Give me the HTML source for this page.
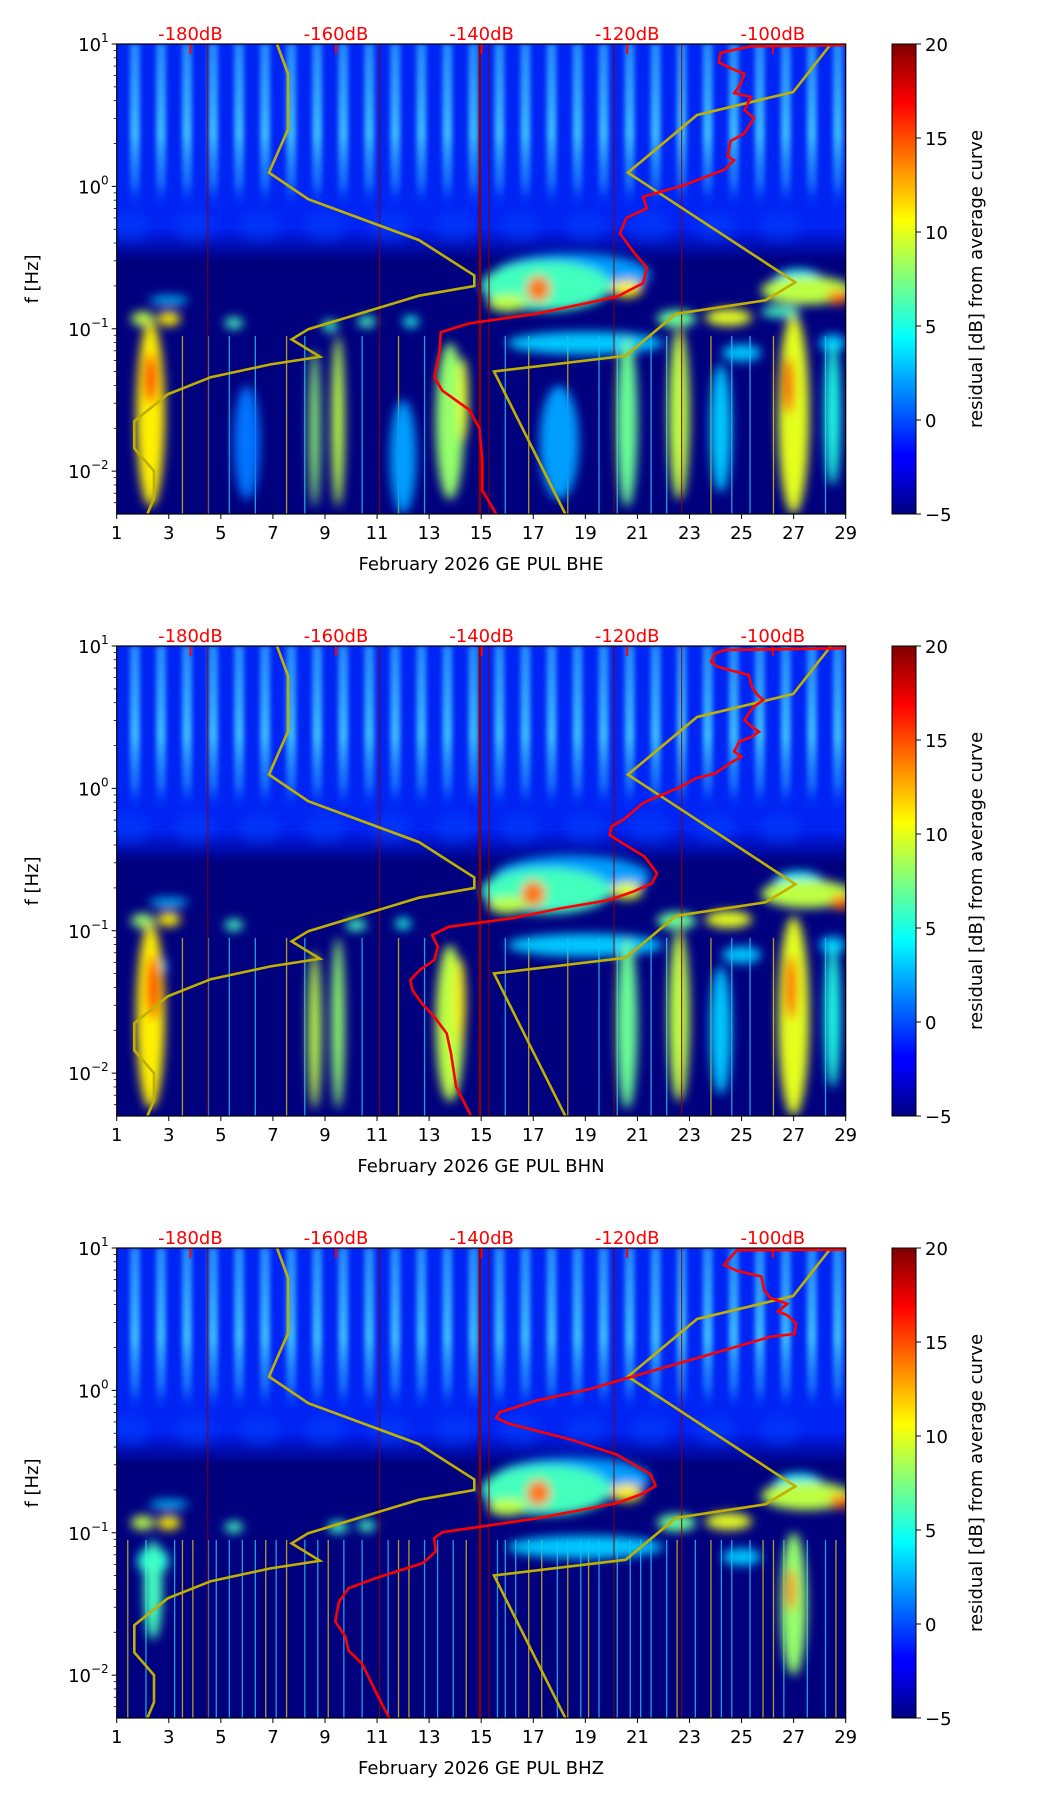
<!DOCTYPE html>
<html><head><meta charset="utf-8">
<style>
html,body{margin:0;padding:0;background:#fff;}
svg{display:block;font-family:"DejaVu Sans","Liberation Sans",sans-serif;}
</style></head>
<body>
<svg id="fig" width="1052" height="1806" viewBox="0 0 1052 1806" xmlns="http://www.w3.org/2000/svg">
<defs>
<filter id="blur5" x="-50%" y="-50%" width="200%" height="200%"><feGaussianBlur stdDeviation="5"/></filter>
<filter id="blur3" x="-50%" y="-50%" width="200%" height="200%"><feGaussianBlur stdDeviation="2.5"/></filter>
<linearGradient id="stripeGrad" x1="0" y1="0" x2="0" y2="1">
<stop offset="0" stop-color="#30a8ff" stop-opacity="0.75"/>
<stop offset="0.55" stop-color="#40c8ff" stop-opacity="0.9"/>
<stop offset="0.85" stop-color="#2090ff" stop-opacity="0.6"/>
<stop offset="1" stop-color="#0050ff" stop-opacity="0"/>
</linearGradient>
<linearGradient id="fadeGrad" x1="0" y1="0" x2="0" y2="1">
<stop offset="0" stop-color="#0020f0"/>
<stop offset="1" stop-color="#00007f"/>
</linearGradient>
<linearGradient id="cbGrad" x1="0" y1="1" x2="0" y2="0">
<stop offset="0" stop-color="#00007f"/><stop offset="0.11" stop-color="#0000ff"/>
<stop offset="0.125" stop-color="#0000ff"/><stop offset="0.375" stop-color="#00ffff"/>
<stop offset="0.5" stop-color="#7fff7f"/><stop offset="0.625" stop-color="#ffff00"/>
<stop offset="0.875" stop-color="#ff0000"/><stop offset="1" stop-color="#7f0000"/>
</linearGradient>
</defs>
</svg>
<script>
// ---------- data ----------
const panelTops = [44, 646, 1248];
const channelNames = ["BHE", "BHN", "BHZ"];
const dayTicks = [1,3,5,7,9,11,13,15,17,19,21,23,25,27,29];
const dbTicks = [-180,-160,-140,-120,-100];
const cbTicks = [20,15,10,5,0,-5];
const yDecades = [1,0,-1,-2];
// low noise model (dB, log10 f)
const nlnmDb   = [-168.1,-166.6,-166.6,-169.2,-163.8,-148.6,-141.0,-141.0,-148.6,-163.8,-166.1,-162.2,-169.0,-177.2,-183.1,-187.7,-187.7,-185.0,-185.0,-185.9];
const nlnmLogf = [1,0.79,0.40,0.097,-0.09,-0.377,-0.625,-0.70,-0.768,-1.003,-1.075,-1.197,-1.25,-1.34,-1.46,-1.65,-1.84,-2.0,-2.19,-2.30];
// high noise model
const nhnmDb   = [-92.0,-97.2,-110.4,-119.9,-96.9,-101.0,-113.3,-120.2,-138.3,-128.5];
const nhnmLogf = [1,0.663,0.501,0.097,-0.674,-0.80,-0.895,-1.19,-1.30,-2.30];
// average curves per channel
const avgDb1 = [-90.1,-103.0,-107.2,-107.4,-105.8,-103.9,-104.4,-105.3,-103.0,-103.9,-102.6,-103.9,-105.8,-106.2,-105.3,-106.7,-112.2,-117.8,-117.3,-120.1,-121.0,-119.1,-117.3,-117.8,-121.4,-132.5,-141.7,-145.6,-145.8,-146.5,-145.4,-141.7,-140.3,-139.9,-139.9,-138.0];
const avgLogf1 = [0.992,0.984,0.938,0.871,0.83,0.79,0.72,0.655,0.628,0.534,0.48,0.372,0.318,0.21,0.183,0.116,0.008,-0.073,-0.154,-0.221,-0.329,-0.464,-0.571,-0.679,-0.774,-0.895,-0.962,-1.024,-1.164,-1.34,-1.434,-1.569,-1.70,-1.92,-2.135,-2.30];
const avgDb2 = [-90.2,-106.6,-107.9,-108.5,-107.6,-105.9,-103.3,-102.9,-102.1,-101.3,-102.6,-103.3,-103.9,-102.9,-101.9,-102.9,-104.6,-105.3,-104.3,-105.9,-107.9,-110.6,-112.6,-115.9,-117.9,-119.2,-120.6,-122.2,-122.4,-120.6,-117.6,-115.9,-116.6,-119.2,-122.6,-129.2,-135.9,-144.5,-146.8,-146.0,-146.5,-148.5,-149.8,-149.5,-148.2,-146.5,-144.8,-144.2,-143.5,-141.5];
const avgLogf2 = [0.984,0.972,0.948,0.89,0.855,0.831,0.796,0.714,0.656,0.621,0.574,0.527,0.48,0.433,0.398,0.363,0.328,0.258,0.222,0.176,0.105,0.07,0.012,-0.059,-0.105,-0.164,-0.222,-0.269,-0.328,-0.386,-0.48,-0.597,-0.667,-0.726,-0.785,-0.843,-0.913,-0.972,-1.03,-1.112,-1.206,-1.276,-1.347,-1.417,-1.51,-1.604,-1.721,-1.862,-2.096,-2.295];
const avgDb3 = [-90.1,-104.9,-105.8,-106.7,-104.9,-101.6,-101.2,-100.3,-98.0,-99.3,-98.0,-96.8,-97.0,-100.3,-103.9,-108.5,-114.1,-119.6,-125.1,-132.5,-137.5,-138.0,-136.2,-127.9,-121.4,-116.8,-116.1,-117.8,-121.4,-132.5,-141.7,-145.4,-146.5,-146.3,-148.1,-154.6,-158.3,-159.6,-160.1,-158.7,-158.3,-156.4,-154.6,-152.7];
const avgLogf3 = [0.989,0.984,0.935,0.88,0.84,0.80,0.704,0.649,0.608,0.554,0.527,0.472,0.396,0.377,0.323,0.255,0.173,0.092,0.01,-0.072,-0.153,-0.194,-0.235,-0.343,-0.452,-0.588,-0.67,-0.724,-0.792,-0.90,-0.969,-0.996,-1.037,-1.132,-1.214,-1.32,-1.39,-1.486,-1.622,-1.73,-1.826,-1.921,-2.111,-2.30];
// residual blobs: [day, log10 f, width days, height decades, residual dB]
const blobs1 = [[18.5,-0.62,6,0.3,2],[17.5,-0.7,5,0.35,6],[16,-0.82,1.5,0.12,9],[17.2,-0.72,0.9,0.18,14],[20.6,-0.72,1.2,0.12,11],[27.2,-0.68,2,0.2,4],[27.5,-0.73,3.5,0.2,9],[28.7,-0.78,0.8,0.1,14],[3,-0.8,1.5,0.06,3],[2,-0.93,0.9,0.1,9],[3,-0.93,0.9,0.1,11],[5.5,-0.96,0.7,0.08,6],[9.2,-0.98,0.6,0.08,6],[10.6,-0.95,0.7,0.08,6],[12.3,-0.95,0.6,0.08,5],[22.5,-0.93,1.5,0.12,7],[24.5,-0.92,1.8,0.12,10],[26.5,-0.88,1.5,0.08,6],[19,-1.1,6,0.16,3],[25,-1.17,1.5,0.12,3],[28.5,-1.1,1,0.12,3],[18,-1.8,1.5,0.8,2],[6,-1.8,1,0.8,1],[12,-1.9,1,0.8,2],[24.2,-1.7,0.8,0.9,3],[2.3,-1.6,1.1,1.3,11],[2.3,-1.35,0.5,0.35,16],[8.6,-1.7,0.4,1.1,8],[9.5,-1.65,0.5,1.2,9],[13.8,-1.65,1.1,1.1,8],[14.3,-1.5,0.4,0.6,10],[20.6,-1.65,0.8,1.2,7],[22.6,-1.6,0.8,1.2,9],[28.5,-1.6,0.6,1,5],[27,-1.6,1.2,1.4,10],[26.8,-1.4,0.4,0.4,17]];
const blobs2 = [[18.5,-0.62,6,0.3,2],[17.5,-0.72,5,0.32,6],[16,-0.82,1.5,0.12,9],[17,-0.74,0.9,0.18,14],[20.6,-0.72,1.2,0.12,10],[27.2,-0.68,2,0.2,4],[27.5,-0.74,3.5,0.2,9],[28.8,-0.8,0.8,0.1,14],[3,-0.8,1.5,0.06,3],[2,-0.93,0.9,0.1,8],[3,-0.92,0.9,0.1,11],[5.5,-0.96,0.7,0.08,6],[10.2,-0.96,0.8,0.08,6],[12,-0.95,0.6,0.08,5],[22.5,-0.93,1.5,0.12,7],[24.5,-0.92,1.8,0.12,10],[19,-1.1,6,0.16,3],[25,-1.17,1.5,0.12,3],[28.5,-1.1,1,0.12,3],[2.4,-1.25,1,0.15,4],[24.2,-1.7,0.8,0.9,3],[2.3,-1.6,1.1,1.3,11],[2.4,-1.4,0.5,0.45,16],[8.6,-1.7,0.5,1.1,9],[9.5,-1.65,0.5,1.2,8],[13.8,-1.65,1.1,1.1,9],[14.2,-1.5,0.4,0.6,11],[20.6,-1.65,0.8,1.2,7],[22.6,-1.6,0.8,1.2,9],[28.5,-1.6,0.6,1,5],[27,-1.6,1.2,1.4,10],[26.9,-1.4,0.4,0.45,16]];
const blobs3 = [[18.5,-0.62,6,0.3,2],[17.5,-0.7,5,0.35,6],[16,-0.82,1.5,0.12,9],[17.2,-0.72,0.9,0.18,14],[20.6,-0.72,1.2,0.12,11],[27.2,-0.68,2,0.2,4],[27.5,-0.74,3.5,0.2,9],[28.8,-0.78,0.8,0.1,14],[3,-0.8,1.5,0.06,3],[2,-0.93,0.9,0.1,9],[3,-0.93,0.9,0.1,11],[5.5,-0.96,0.7,0.08,6],[9.5,-0.96,0.8,0.08,6],[10.6,-0.95,0.7,0.08,6],[22.5,-0.93,1.5,0.12,7],[24.5,-0.92,1.8,0.12,10],[19,-1.1,6,0.16,3],[25,-1.17,1.5,0.12,3],[2.4,-1.2,1.2,0.2,5],[2.4,-1.4,0.7,0.7,6],[27,-1.5,1,1,8],[26.9,-1.4,0.35,0.3,14]];
const streakDays = [3.5,4.5,5.3,7.5,8.2,10.4,11.8,12.8,15.9,16.8,19.5,21.5,23.8,24.6,25.3,26.2,28.2,6.3,18.3,20.2,22.1];
const streakDays3 = [1.4,2.1,3.2,3.9,4.8,5.8,6.7,7.1,8.7,9.1,9.7,11.4,12.2,13.3,13.9,14.4,15.6,16.3,17.3,17.9,18.8,19.1,20.7,21.1,22.5,23.2,24.2,25.8,26.6,27.5,28.6];
const darkLineDays = [4.5,11.1,14.95,15.3,20.1,22.7];
const allAvgDb = [avgDb1, avgDb2, avgDb3];
const allAvgLogf = [avgLogf1, avgLogf2, avgLogf3];
const allBlobs = [blobs1, blobs2, blobs3];

// ---------- scales ----------
const X0 = 116.7, X1 = 845.7, H = 470, DEC = H / 3.301;
const xDay = d => X0 + (d - 1) * (X1 - X0) / 28;
const xDb = db => 190.4 + (db + 180) * 7.28;
const yF = (T, lf) => T + (1 - lf) * DEC;
const CBX = 892, CBW = 24;
const yCb = (T, v) => T + (20 - v) / 25 * H;
function jet(v) {
  const t = Math.max(0, Math.min(1, (v + 5) / 25));
  const c = x => Math.round(255 * Math.max(0, Math.min(1, x)));
  return `rgb(${c(1.5 - Math.abs(4 * t - 3))},${c(1.5 - Math.abs(4 * t - 2))},${c(1.5 - Math.abs(4 * t - 1))})`;
}
const NS = "http://www.w3.org/2000/svg";
const svg = document.getElementById("fig");
function mk(tag, attrs, parent) {
  const e = document.createElementNS(NS, tag);
  for (const k in attrs) e.setAttribute(k, attrs[k]);
  (parent || svg).appendChild(e);
  return e;
}
function path(dbs, lfs, T) {
  return dbs.map((db, i) => (i ? "L" : "M") + xDb(db).toFixed(1) + "," + yF(T, lfs[i]).toFixed(1)).join(" ");
}
const FS = 18;

panelTops.forEach((T, p) => {
  const g = mk("g", {});
  
  
  const defs = svg.querySelector("defs");
  const cp = mk("clipPath", { id: "clip" + p }, defs);
  mk("rect", { x: X0, y: T, width: X1 - X0, height: H }, cp);

  const plot = mk("g", { "clip-path": `url(#clip${p})` }, g);
  
  
  mk("rect", { x: X0, y: T, width: X1 - X0, height: H, fill: "#00007f" }, plot);
  mk("rect", { x: X0, y: yF(T, 1), width: X1 - X0, height: yF(T, -0.3) - yF(T, 1), fill: "#0024f4" }, plot);
  mk("rect", { x: X0, y: yF(T, -0.3), width: X1 - X0, height: yF(T, -0.52) - yF(T, -0.3), fill: "url(#fadeGrad)" }, plot);
  // faint lighter patches in 0.3-0.7 Hz band
  const soft = mk("g", { filter: "url(#blur5)", opacity: 0.35 }, plot);
  for (let d = 1.5; d < 29; d += 2.5) {
    mk("ellipse", { cx: xDay(d), cy: yF(T, -0.28), rx: 20, ry: 16, fill: jet(0) }, soft);
  }
  // daily stripes
  const stripes = mk("g", { filter: "url(#blur3)" }, plot);
  for (let d = 1; d <= 28; d++) {
    const s = mk("rect", { x: xDay(d + 0.7) - 5, y: yF(T, 1), width: 10, height: yF(T, -0.15) - yF(T, 1), fill: "url(#stripeGrad)" }, stripes);
    
    
  }
  // thin streaks in low band
  const sd = p === 2 ? streakDays.concat(streakDays3) : streakDays;
  sd.forEach((d, i) => {
    const s = mk("rect", { x: xDay(d), y: yF(T, -1.05), width: 1.3, height: yF(T, -2.31) - yF(T, -1.05), fill: i % 3 === 0 ? "#ffe000" : "#30e0ff", opacity: 0.7 }, plot);
    
    
  });
  // blobs
  const bg = mk("g", { filter: "url(#blur5)" }, plot);
  allBlobs[p].forEach(b => {
    const e = mk("ellipse", { cx: xDay(b[0]), cy: yF(T, b[1]), rx: b[2] * 13, ry: b[3] * DEC / 2, fill: jet(b[4]) }, bg);
    
    
  });
  darkLineDays.forEach(d => {
    const l = mk("line", { x1: xDay(d), x2: xDay(d), y1: T, y2: T + H, stroke: "#8b0000", "stroke-width": d === 14.95 ? 2.5 : 1 }, plot);
    
    
  });
  // model curves
  const lo = mk("path", { d: path(nlnmDb, nlnmLogf, T), fill: "none", stroke: "#c0b000", "stroke-width": 2.6 }, plot);
  
  
  const hi = mk("path", { d: path(nhnmDb, nhnmLogf, T), fill: "none", stroke: "#c0b000", "stroke-width": 2.6 }, plot);
  
  
  const av = mk("path", { d: path(allAvgDb[p], allAvgLogf[p], T), fill: "none", stroke: "#ff0000", "stroke-width": 2.6 }, plot);
  
  
  const tl = mk("line", { x1: xDb(allAvgDb[p][0]), x2: X1, y1: T + 1, y2: T + 1, stroke: "#ff0000", "stroke-width": 2 }, plot);
  
  

  // dB scale labels
  dbTicks.forEach(db => {
    mk("line", { x1: xDb(db), x2: xDb(db), y1: T, y2: T + 10, stroke: "#ff0000", "stroke-width": 2 }, g);
    const t = mk("text", { x: xDb(db), y: T - 4, "text-anchor": "middle", "font-size": FS, fill: "#ff0000" }, g);
    t.textContent = db + "dB";
    
    
  });
  // frame
  const fr = mk("rect", { x: X0, y: T, width: X1 - X0, height: H, fill: "none", stroke: "#000", "stroke-width": 1.2 }, g);
  
  
  // x ticks
  dayTicks.forEach(d => {
    mk("line", { x1: xDay(d), x2: xDay(d), y1: T + H, y2: T + H + 5, stroke: "#000", "stroke-width": 1 }, g);
    const t = mk("text", { x: xDay(d), y: T + H + 25, "text-anchor": "middle", "font-size": FS }, g);
    t.textContent = d;
    
    
  });
  const xl = mk("text", { x: 481, y: T + H + 56, "text-anchor": "middle", "font-size": FS }, g);
  xl.textContent = "February 2026 GE PUL  " + channelNames[p];
  
  
  // y ticks
  yDecades.forEach(k => {
    mk("line", { x1: X0 - 5, x2: X0, y1: yF(T, k), y2: yF(T, k), stroke: "#000", "stroke-width": 1 }, g);
    const t = mk("text", { x: X0 - 8, y: yF(T, k) + 7, "text-anchor": "end", "font-size": FS }, g);
    
    
    const a = mk("tspan", {}, t);
    a.textContent = "10";
    const b = mk("tspan", { dy: -9, "font-size": 12 }, t);
    b.textContent = k < 0 ? "\u2212" + (-k) : String(k);
    for (let m = 2; m <= 9; m++) {
      const lf = k - 1 + Math.log10(m);
      if (lf >= -2.301) mk("line", { x1: X0 - 3, x2: X0, y1: yF(T, lf), y2: yF(T, lf), stroke: "#000", "stroke-width": 0.8 }, g);
    }
  });
  const yl = mk("text", { x: 0, y: 0, transform: `translate(38,${T + H / 2}) rotate(-90)`, "text-anchor": "middle", "font-size": FS }, g);
  yl.textContent = "f [Hz]";
  
  
  // colorbar
  const cb = mk("rect", { x: CBX, y: T, width: CBW, height: H, fill: "url(#cbGrad)", stroke: "#000", "stroke-width": 1 }, g);
  
  
  cbTicks.forEach(v => {
    mk("line", { x1: CBX + CBW, x2: CBX + CBW + 5, y1: yCb(T, v), y2: yCb(T, v), stroke: "#000", "stroke-width": 1 }, g);
    const t = mk("text", { x: CBX + CBW + 9, y: yCb(T, v) + 7, "font-size": FS }, g);
    t.textContent = v < 0 ? "\u2212" + (-v) : String(v);
    
    
  });
  const cl = mk("text", { x: 0, y: 0, transform: `translate(982,${T + H / 2}) rotate(-90)`, "text-anchor": "middle", "font-size": FS }, g);
  cl.textContent = "residual [dB] from average curve";
  
  
});
</script>
</body></html>
